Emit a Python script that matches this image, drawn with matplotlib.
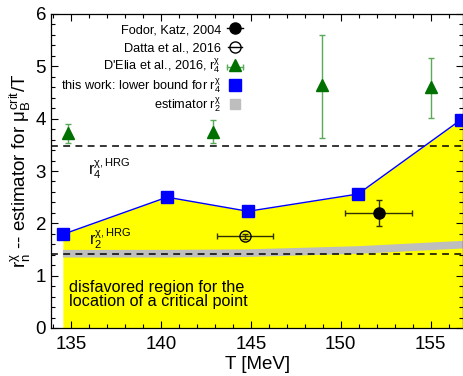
import matplotlib
matplotlib.use("Agg")
import matplotlib.pyplot as plt
import numpy as np

plt.rcParams['font.family'] = ['Liberation Sans', 'DejaVu Sans']
plt.rcParams['mathtext.fontset'] = 'custom'
plt.rcParams['mathtext.rm'] = 'Liberation Sans'
plt.rcParams['mathtext.it'] = 'Liberation Sans'

# this work: lower bound for r4
T_work = [134.56, 140.35, 144.85, 150.96, 156.68]
r4_work = [1.79, 2.50, 2.23, 2.56, 3.98]

# estimator r2
T_r2 = [134.56, 140.35, 144.85, 150.96, 156.68]
r2_est = [1.42, 1.42, 1.43, 1.49, 1.59]

# D'Elia et al. 2016
T_delia = [134.87, 142.9, 148.98, 155.0]
r4_delia = [3.73, 3.75, 4.65, 4.61]
delia_lo = [3.53, 3.53, 3.64, 4.02]
delia_hi = [3.90, 3.97, 5.60, 5.16]

# Fodor, Katz 2004
T_fk, T_fk_err = [152.1], [1.85]
mu_fk, mu_fk_err = [2.19], [0.25]

# Datta et al. 2016
T_datta, T_datta_err = [144.7], [1.55]
mu_datta, mu_datta_err = [1.75], [0.05]

r4_hrg = 3.47
r2_hrg = 1.42

xmin, xmax = 133.9, 156.82

fig = plt.figure(figsize=(4.64, 3.76), dpi=100)
ax = fig.add_axes([51/464, 1 - 328/376, 412.5/464, 314/376])

# yellow disfavored region below the lower bound
xf = T_work + [xmax]
yf = r4_work + [r4_work[-1]]
ax.fill_between(xf, 0, yf, color='#ffff00', lw=0, zorder=1)

# gray estimator band
ax.plot(T_r2 + [xmax], r2_est + [r2_est[-1]], color='#bebebe', lw=5.5,
        solid_capstyle='butt', zorder=2)

ax.axhline(r4_hrg, color='black', ls=(0, (4.5, 3.5)), lw=1.1, zorder=3)
ax.axhline(r2_hrg, color='black', ls=(0, (4.5, 3.5)), lw=1.1, zorder=3)

ax.plot(T_work, r4_work, color='#0000ff', lw=1, marker='s', ms=8.5, zorder=6)

yerr_delia = [np.array(r4_delia) - np.array(delia_lo),
              np.array(delia_hi) - np.array(r4_delia)]
ax.errorbar(T_delia, r4_delia, yerr=yerr_delia, fmt='^', color='#007000',
            ms=8, ecolor='#5aaa5a', elinewidth=1, capsize=2.5, zorder=5)

ax.errorbar(T_datta, mu_datta, xerr=T_datta_err, yerr=mu_datta_err, fmt='o',
            mfc='none', mec='black', ms=8, color='black', ecolor='#303000',
            elinewidth=1, capsize=2, zorder=5)

ax.errorbar(T_fk, mu_fk, xerr=T_fk_err, yerr=mu_fk_err, fmt='o',
            color='black', ms=8, ecolor='#303000', elinewidth=1, capsize=2,
            zorder=5)

ax.text(135.95, 2.93, 'r$_4^{\\chi,\\mathrm{HRG}}$', fontsize=11.5, zorder=7)
ax.text(136.0, 1.59, 'r$_2^{\\chi,\\mathrm{HRG}}$', fontsize=11.5, zorder=7)
ax.text(134.9, 0.64, 'disfavored region for the\nlocation of a critical point',
        fontsize=11.7, va='center', ha='left', linespacing=0.85, zorder=7)

ax.set_xlim(xmin, xmax)
ax.set_ylim(0, 6)
ax.set_xticks([135, 140, 145, 150, 155])
ax.set_xticks(np.arange(134, 157), minor=True)
ax.set_yticks([0, 1, 2, 3, 4, 5, 6])
ax.set_yticks(np.arange(0, 6.01, 0.2), minor=True)
ax.tick_params(which='both', direction='in', top=True, right=True,
               labelsize=13.5, width=0.8)
ax.tick_params(which='major', length=5)
ax.tick_params(which='minor', length=3)
ax.tick_params(axis='x', pad=6)
for s in ax.spines.values():
    s.set_linewidth(0.9)
    s.set_zorder(8)

ax.set_xlabel('T [MeV]', fontsize=13.5, labelpad=2)
ax.set_ylabel('r$_n^{\\chi}$ -- estimator for $\\mu_B^{\\mathrm{crit}}$/T',
              fontsize=13.5, labelpad=2)

# gnuplot-style key: text on the left, sample on the right
labels = ['Fodor, Katz, 2004', 'Datta et al., 2016',
          "D'Elia et al., 2016, r$_4^{\\chi}$",
          'this work: lower bound for r$_4^{\\chi}$',
          'estimator r$_2^{\\chi}$']
tr = fig.transFigure
def fx(px):
    return px / 464
def fy(py):
    return 1 - py / 376

base_px = [33.3, 51.7, 70.0, 90.0, 109.3]
for lab, b in zip(labels, base_px):
    fig.text(fx(221), fy(b), lab, ha='right', va='baseline', fontsize=9.2,
             zorder=10)

kx = 235
rows = [b - 5 for b in base_px]
fig.add_artist(plt.Line2D([fx(kx - 8), fx(kx + 8)], [fy(rows[0])] * 2,
                          color='black', lw=1, transform=tr))
fig.add_artist(plt.Line2D([fx(kx)], [fy(rows[0])], marker='o', ms=8,
                          color='black', transform=tr))
fig.add_artist(plt.Line2D([fx(kx - 7), fx(kx + 7)], [fy(rows[1])] * 2,
                          color='black', lw=1, transform=tr))
fig.add_artist(plt.Line2D([fx(kx)], [fy(rows[1])], marker='o', ms=8,
                          mfc='none', mec='black', transform=tr))
fig.add_artist(plt.Line2D([fx(kx - 8), fx(kx + 8)], [fy(rows[2] + 2)] * 2,
                          color='#5aaa5a', lw=1, transform=tr))
fig.add_artist(plt.Line2D([fx(kx - 8), fx(kx + 8)], [fy(rows[2] + 2)] * 2,
                          ls='none', marker='|', ms=5, color='#5aaa5a',
                          transform=tr))
fig.add_artist(plt.Line2D([fx(kx)], [fy(rows[2])], marker='^', ms=8,
                          color='#007000', transform=tr))
fig.add_artist(plt.Line2D([fx(kx)], [fy(rows[3])], marker='s', ms=8,
                          color='#0000ff', transform=tr))
fig.add_artist(plt.Line2D([fx(kx)], [fy(rows[4])], marker='s', ms=7.5,
                          color='#bebebe', transform=tr))

fig.savefig('out.png', dpi=100)
